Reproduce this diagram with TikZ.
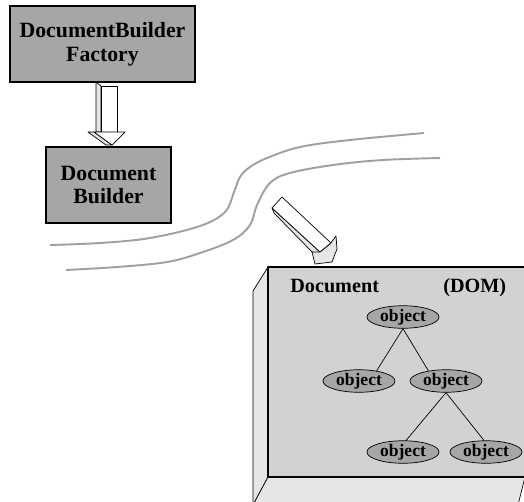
\documentclass[tikz,border=0pt]{standalone}
\usepackage{fontspec}
\setmainfont{Liberation Serif}
\usetikzlibrary{shapes.geometric}
\definecolor{boxgray}{HTML}{A6A6A6}
\definecolor{facegray}{HTML}{D2D2D2}
\definecolor{sidegray}{HTML}{E6E6E6}
\definecolor{roadgray}{HTML}{A0A0A0}
\begin{document}
\begin{tikzpicture}[x=0.02cm, y=-0.02cm,
		box/.style={draw, fill=boxgray, line width=0.6pt, align=center, inner sep=0pt,
			font=\bfseries\fontsize{12.4}{13.6}\selectfont},
		obj/.style={ellipse, draw, fill=boxgray, minimum width=1.44cm, minimum height=0.44cm,
			inner sep=0pt, font=\bfseries\fontsize{10}{10}\selectfont},
		road/.style={draw=roadgray, line width=1.1pt},
		block/.style={draw, line width=0.4pt, line join=round},
		label/.style={anchor=base west, inner sep=0pt, font=\bfseries\fontsize{11.5}{12}\selectfont}]
				\useasboundingbox (0,0) rectangle (524,501);
				\clip (0,0) rectangle (524,501);

				% Factory and builder
				\node[box, minimum width=3.7cm, minimum height=1.52cm] (factory) at (102.5,44) {DocumentBuilder\\Factory};
				\node[box, minimum width=2.5cm, minimum height=1.52cm] (builder) at (108.5,185) {Document\\Builder};

				% Arrow between them
				\draw[block, fill=sidegray] (96,82) -- (101,86) -- (101,132) -- (96,132) -- cycle;
				\draw[block, fill=white] (101,86) -- (117,86) -- (117,132) -- (101,132) -- cycle;
				\draw[block, fill=sidegray] (88,132) -- (94,132) -- (112,145) -- (106,145) -- cycle;
				\draw[block, fill=white] (94,132) -- (125,132) -- (112,145) -- cycle;

				% Wire
				\draw[road] plot[smooth, tension=0.6] coordinates {(50,245) (100,243) (150,238) (200,226) (225,212) (234,192) (240,177) (250,167) (267,158) (300,147) (350,140) (424,133)};
				\draw[road] plot[smooth, tension=0.6] coordinates {(66,270) (117,267) (167,262) (200,253) (233,240) (250,225) (257,205) (270,183) (290,173) (333,165) (383,160) (440,158)};

				% Arrow into the document
				\draw[block, fill=sidegray] (272,208) -- (274,213) -- (315,255) -- (320,252) -- cycle;
				\draw[block, fill=white] (282,197) -- (272,208) -- (320,252) -- (331,243) -- cycle;
				\draw[block, fill=sidegray] (312,252) -- (315,264) -- (332,262) -- (337,249) -- (336,236) -- (330,244) -- (320,252) -- cycle;

				% Document box
				\draw[block, fill=sidegray] (268,267) -- (253,291) -- (253,505) -- (268,477) -- cycle;
				\draw[block, fill=sidegray] (268,477) -- (525,477) -- (518,505) -- (253,505) -- cycle;
				\draw[block, fill=facegray, line width=0.6pt] (268,267) rectangle (530,477);
				\node[label] (doclabel) at (290,292) {Document};
				\node[label] (domlabel) at (443,292) {(DOM)};

				% Tree
				\node[obj] (root) at (403,317) {object};
				\node[obj] (left) at (359,381) {object};
				\node[obj] (right) at (446,381) {object};
				\node[obj] (leafa) at (403,452) {object};
				\node[obj] (leafb) at (486,452) {object};
				\draw[line width=0.4pt] (root.south) -- (left.30);
				\draw[line width=0.4pt] (root.south) -- (right.150);
				\draw[line width=0.4pt] (right.south) -- (leafa.75);
				\draw[line width=0.4pt] (right.south) -- (leafb.100);
			\end{tikzpicture}
\end{document}
